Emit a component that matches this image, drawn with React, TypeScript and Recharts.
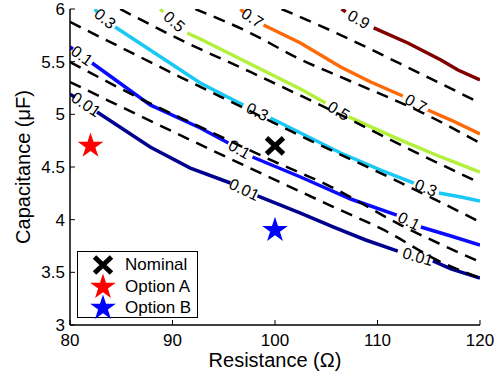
import { ComposedChart, Line, Scatter, XAxis, YAxis, Legend, Label } from "recharts"

const FONT = "'Liberation Sans', Arial, Helvetica, sans-serif"

// plot box in px, used only to turn contour slopes into label angles
const PLOT_W = 410
const PLOT_H = 316

const resistanceTicks = [80, 90, 100, 110, 120]
const capacitanceTicks = [3, 3.5, 4, 4.5, 5, 5.5, 6]

type Pair = [number, number] | null

// simulated yield contours [R (ohm), C (uF)]; null = gap for the inline label
const level001: Pair[] = [
  [80, 5.19], [80.49, 5.165], null,
  [82.64, 5.022], [87.82, 4.69], [91.74, 4.49], [95.65, 4.348], null,
  [98.29, 4.225], [102.49, 4.063], [105.72, 3.93], [108.85, 3.807], [111.98, 3.702], null,
  [115.4, 3.608], [117.16, 3.532], [120, 3.446],
]
const level01: Pair[] = [
  [80, 5.639], [80.29, 5.62], null,
  [82.15, 5.487], [87.82, 5.089], [92.71, 4.87], [95.45, 4.728], null,
  [97.8, 4.595], [102.49, 4.405], [107.38, 4.196], [111.88, 4.044], null,
  [114.23, 3.93], [117.16, 3.845], [120, 3.759],
]
const level03: Pair[] = [
  [82.44, 6.0], [82.64, 5.972], null,
  [84.4, 5.829], [87.82, 5.611], [92.71, 5.297], [95.94, 5.136], [96.92, 5.089], null,
  [99.56, 4.965], [106.41, 4.633], [110.32, 4.471], [113.55, 4.348], null,
  [115.99, 4.253], [118.14, 4.215], [120, 4.177],
]
const level05: Pair[] = [
  [88.8, 6.0], [89.1, 5.972], null,
  [91.44, 5.772], [92.71, 5.715], [97.6, 5.478], [102.49, 5.24], [104.94, 5.108], null,
  [107.19, 4.975], [112.27, 4.756], [116.19, 4.595], [120, 4.452],
]
const level07: Pair[] = [
  [96.63, 6.0], [96.92, 5.972], null,
  [98.88, 5.848], [102.49, 5.677], [106.41, 5.449], [109.34, 5.307], [112.47, 5.174], null,
  [114.91, 5.041], [117.16, 4.946], [120, 4.813],
]
const level09: Pair[] = [
  [106.5, 6.0], [106.9, 5.972], null,
  [109.63, 5.82], [112.96, 5.677], [116.19, 5.516], [117.85, 5.421], [120, 5.326],
]

// label positions along each contour (R value inside the gap)
const labels001 = [81.56, 97.0, 113.94]
const labels01 = [81.17, 96.53, 113.06]
const labels03 = [83.42, 98.29, 114.72]
const labels05 = [90.17, 106.21]
const labels07 = [97.8, 113.74]
const labels09 = [108.17]

// analytical (model) contours, dashed
const model001: Pair[] = [[80, 5.307], [83.62, 5.136], [93.4, 4.68], [105.72, 4.12], [110.61, 3.902], [116.19, 3.598], [120, 3.446]]
const model01: Pair[] = [[80, 5.497], [87.14, 5.136], [92.71, 4.88], [100.24, 4.538], [105.13, 4.329], [112.27, 3.949], [120, 3.598]]
const model03: Pair[] = [[80, 5.877], [84.89, 5.639], [90.76, 5.354], [95.94, 5.108], [103.77, 4.737], [111.3, 4.396], [120, 3.978]]
const model05: Pair[] = [[84.89, 6.0], [91.44, 5.677], [97.6, 5.402], [106.41, 4.994], [112.27, 4.709], [120, 4.348]]
const model07: Pair[] = [[92.22, 6.0], [97.6, 5.772], [102.2, 5.535], [107.09, 5.326], [114.23, 5.022], [120, 4.728]]
const model09: Pair[] = [[100.64, 6.0], [106.41, 5.753], [112.27, 5.478], [120, 5.108]]

const nominal = [{ r: 100, c: 4.7 }]
const optionA = [{ r: 82, c: 4.7 }]
const optionB = [{ r: 100, c: 3.9 }]

const contours = [
  { name: "0.01", pts: level001, labels: labels001, color: "#00008f" },
  { name: "0.1", pts: level01, labels: labels01, color: "#0a0aff" },
  { name: "0.3", pts: level03, labels: labels03, color: "#19c8f5" },
  { name: "0.5", pts: level05, labels: labels05, color: "#b2f03c" },
  { name: "0.7", pts: level07, labels: labels07, color: "#ff6a08" },
  { name: "0.9", pts: level09, labels: labels09, color: "#800000" },
]
const models = [model001, model01, model03, model05, model07, model09]

const toSeries = (pts: Pair[]) => {
  let last = 80
  return pts.map((p) => {
    if (!p) return { r: last, c: null }
    last = p[0]
    return { r: p[0], c: p[1] }
  })
}

// label position and angle from the two contour points around the gap
const labelData = contours.flatMap((lv) => {
  const pts = lv.pts.filter((p): p is [number, number] => p !== null)
  return lv.labels.map((r) => {
    let i = 0
    while (i < pts.length - 2 && pts[i + 1][0] < r) i++
    const [r0, c0] = pts[i]
    const [r1, c1] = pts[i + 1]
    const c = c0 + ((c1 - c0) * (r - r0)) / (r1 - r0)
    const angle = (Math.atan2((c0 - c1) * (PLOT_H / 3), (r1 - r0) * (PLOT_W / 40)) * 180) / Math.PI
    return { r, c, text: lv.name, angle }
  })
})

const starPoints = (cx: number, cy: number, R: number) => {
  const out: string[] = []
  for (let k = 0; k < 10; k++) {
    const rad = k % 2 === 0 ? R : R * 0.382
    const a = -Math.PI / 2 + (k * Math.PI) / 5
    out.push(`${cx + rad * Math.cos(a)},${cy + rad * Math.sin(a)}`)
  }
  return out.join(" ")
}

const StarMark = (props: any) => (
  <polygon points={starPoints(props.cx, props.cy, 13.5)} fill={props.fill} />
)

const CrossMark = (props: any) => {
  const { cx, cy } = props
  return (
    <path
      d={`M${cx - 8.5} ${cy - 8} L${cx + 8.5} ${cy + 8} M${cx + 8.5} ${cy - 8} L${cx - 8.5} ${cy + 8}`}
      stroke="#000"
      strokeWidth={5}
    />
  )
}

const ContourLabel = (props: any) => {
  const { cx, cy, payload } = props
  return (
    <text
      x={cx}
      y={cy}
      transform={`rotate(${payload.angle} ${cx} ${cy})`}
      textAnchor="middle"
      dominantBaseline="central"
      fontSize={16}
      fontFamily={FONT}
      fill="#000"
    >
      {payload.text}
    </text>
  )
}

const legendIcons: Record<string, (x: number, y: number) => any> = {
  Nominal: (x, y) => <CrossMark cx={x} cy={y} />,
  "Option A": (x, y) => <StarMark cx={x} cy={y} fill="#ff0000" />,
  "Option B": (x, y) => <StarMark cx={x} cy={y} fill="#0000ff" />,
}

const renderLegend = (props: any) => {
  const items = (props.payload || []).filter((e: any) => legendIcons[e.value])
  return (
    <div style={{ position: "relative", width: 119, height: 65, border: "1.2px solid #000", background: "#fff" }}>
      {items.map((e: any, i: number) => (
        <div key={e.value} style={{ position: "absolute", left: 0, top: 2 + i * 21.5, height: 22, display: "flex", alignItems: "center" }}>
          <svg width={46} height={26} style={{ display: "block" }}>
            {legendIcons[e.value](25, 13)}
          </svg>
          <span style={{ fontFamily: FONT, fontSize: 17, color: "#000", marginLeft: 1 }}>{e.value}</span>
        </div>
      ))}
    </div>
  )
}

const YTitle = (props: any) => {
  const { viewBox } = props
  const x = viewBox.x + 30
  const y = viewBox.y + viewBox.height / 2
  return (
    <text x={x} y={y} transform={`rotate(-90 ${x} ${y})`} textAnchor="middle" fontSize={20} fontFamily={FONT} fill="#000">
      Capacitance (μF)
    </text>
  )
}

const axisLine = { stroke: "#000", strokeWidth: 1.5 }
const tickText = { fill: "#000", fontSize: 17, fontFamily: FONT }

export default function App() {
  return (
    <div style={{ position: "absolute", left: 0, top: 0, width: 499, height: 378, background: "#fff" }}>
      <ComposedChart width={499} height={378} margin={{ top: 9, right: 19, bottom: 0, left: 0 }}>
        <XAxis
          dataKey="r"
          type="number"
          domain={[80, 120]}
          ticks={resistanceTicks}
          interval={0}
          allowDataOverflow
          height={53}
          axisLine={axisLine}
          tickLine={{ stroke: "#000" }}
          tickSize={-5}
          tickMargin={14}
          tick={tickText}
        >
          <Label value="Resistance (Ω)" position="insideBottom" offset={11} fontSize={20} fontFamily={FONT} fill="#000" />
        </XAxis>
        <XAxis
          xAxisId="top"
          orientation="top"
          dataKey="r"
          type="number"
          domain={[80, 120]}
          ticks={resistanceTicks}
          interval={0}
          height={0}
          axisLine={axisLine}
          tickLine={{ stroke: "#000" }}
          tickSize={-5}
          tick={false}
        />
        <YAxis
          dataKey="c"
          type="number"
          domain={[3, 6]}
          ticks={capacitanceTicks}
          interval={0}
          allowDataOverflow
          width={70}
          axisLine={axisLine}
          tickLine={{ stroke: "#000" }}
          tickSize={-5}
          tickMargin={10}
          tick={tickText}
        >
          <Label content={<YTitle />} />
        </YAxis>
        <YAxis
          yAxisId="right"
          orientation="right"
          dataKey="c"
          type="number"
          domain={[3, 6]}
          ticks={capacitanceTicks}
          interval={0}
          width={0}
          axisLine={axisLine}
          tickLine={{ stroke: "#000" }}
          tickSize={-5}
          tick={false}
        />

        {contours.map((lv) => (
          <Line
            key={"lv" + lv.name}
            data={toSeries(lv.pts)}
            dataKey="c"
            type="linear"
            stroke={lv.color}
            strokeWidth={3.5}
            dot={false}
            activeDot={false}
            legendType="none"
            isAnimationActive={false}
          />
        ))}
        {models.map((m, i) => (
          <Line
            key={"model" + i}
            data={toSeries(m)}
            dataKey="c"
            type="monotone"
            stroke="#000"
            strokeWidth={2.5}
            strokeDasharray="12 8"
            dot={false}
            activeDot={false}
            legendType="none"
            isAnimationActive={false}
          />
        ))}

        <Scatter data={labelData} dataKey="c" shape={<ContourLabel />} legendType="none" isAnimationActive={false} />
        <Scatter name="Nominal" data={nominal} dataKey="c" fill="#000" shape={<CrossMark />} isAnimationActive={false} />
        <Scatter name="Option A" data={optionA} dataKey="c" fill="#ff0000" shape={<StarMark />} isAnimationActive={false} />
        <Scatter name="Option B" data={optionB} dataKey="c" fill="#0000ff" shape={<StarMark />} isAnimationActive={false} />

        <Legend
          layout="horizontal"
          verticalAlign="middle"
          align="center"
          content={renderLegend}
          wrapperStyle={{ left: 77, top: 251, width: 121, height: 67 }}
        />
      </ComposedChart>
    </div>
  )
}
